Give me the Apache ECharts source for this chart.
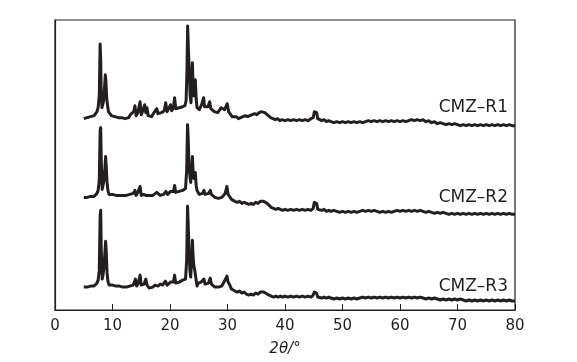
<!DOCTYPE html>
<html>
<head>
<meta charset="utf-8">
<script src="https://cdn.jsdelivr.net/npm/echarts@6/dist/echarts.min.js"></script>
<style>html,body{margin:0;padding:0;background:#fff}#c{width:577px;height:362px}</style>
</head>
<body>
<div id="c"></div>
<script>
const xTicks = [0, 10, 20, 30, 40, 50, 60, 70, 80];
const seriesNames = ['CMZ–R1', 'CMZ–R2', 'CMZ–R3'];
const labelLevels = [203, 113, 24];

const r1 = [[5.0,192],[5.3,194],[5.6,193],[5.9,195],[6.2,194],[6.5,196],[6.8,195],[7.1,197],[7.3,199],[7.5,203],[7.7,215],[7.85,267],[7.95,250],[8.05,215],[8.17,203],[8.3,206],[8.45,210],[8.6,222],[8.75,236],[8.85,230],[9.0,212],[9.15,205],[9.3,199],[9.5,197],[9.8,195],[10.1,196],[10.4,194],[10.7,195],[11.0,193],[11.3,195],[11.6,193],[11.9,194],[12.2,192],[12.5,194],[12.8,193],[13.1,196],[13.4,194],[13.7,199],[13.9,205],[14.1,195],[14.4,198],[14.6,200],[14.8,209],[15.0,196],[15.2,199],[15.4,197],[15.6,206],[15.8,198],[16.0,203],[16.2,195],[16.5,196],[16.8,194],[17.1,197],[17.4,196],[17.7,202],[17.9,197],[18.2,196],[18.5,198],[18.8,197],[19.0,200],[19.25,208],[19.5,199],[19.8,201],[20.1,206],[20.3,200],[20.6,203],[20.8,213],[21.0,202],[21.3,201],[21.6,203],[21.9,201],[22.2,204],[22.4,203],[22.6,205],[22.8,210],[22.95,240],[23.07,285],[23.2,262],[23.35,240],[23.5,215],[23.65,208],[23.8,230],[23.9,248],[24.0,228],[24.1,215],[24.25,220],[24.4,231],[24.55,212],[24.7,203],[24.9,205],[25.1,201],[25.3,203],[25.5,206],[25.7,208],[25.85,213],[26.0,204],[26.3,203],[26.6,204],[26.9,209],[27.1,202],[27.4,200],[27.7,199],[28.0,201],[28.3,198],[28.6,200],[28.9,203],[29.2,205],[29.5,201],[29.8,203],[29.95,207],[30.2,199],[30.5,197],[30.8,194],[31.1,193],[31.5,194],[31.9,192],[32.3,193],[32.7,194],[33.1,195],[33.5,194],[33.9,195],[34.3,196],[34.7,197],[35.1,196],[35.5,198],[35.9,199],[36.2,200],[36.5,198],[36.8,197],[37.1,195],[37.5,193],[37.9,192],[38.3,191],[38.7,192],[39.1,190],[39.5,191],[40.0,190],[40.5,191],[41.0,190],[41.5,191],[42.0,190],[42.5,191],[43.0,190],[43.5,191],[44.0,190],[44.5,192],[44.9,193],[45.1,199],[45.3,197],[45.5,198],[45.7,192],[46.0,193],[46.4,190],[46.8,191],[47.2,189],[47.6,190],[48.0,189],[48.5,188],[49.0,189],[49.5,188],[50.0,189],[50.5,188],[51.0,189],[51.5,188],[52.0,189],[52.5,188],[53.0,189],[53.5,188],[54.0,189],[54.5,190],[55.0,189],[55.5,190],[56.0,189],[56.5,190],[57.0,189],[57.5,190],[58.0,189],[58.5,190],[59.0,189],[59.5,190],[60.0,189],[60.5,190],[61.0,189],[61.5,190],[62.0,191],[62.5,190],[63.0,191],[63.5,190],[64.0,191],[64.5,189],[65.0,190],[65.5,188],[66.0,189],[66.5,187],[67.0,188],[67.5,187],[68.0,186],[68.5,187],[69.0,186],[69.5,187],[70.0,186],[70.5,185],[71.0,186],[71.5,185],[72.0,186],[72.5,185],[73.0,186],[73.5,185],[74.0,186],[74.5,185],[75.0,186],[75.5,185],[76.0,186],[76.5,185],[77.0,186],[77.5,185],[78.0,186],[78.5,185],[79.0,186],[79.5,185],[80.0,185]];

const r2 = [[5.0,113],[5.3,114],[5.6,113],[5.9,115],[6.2,114],[6.5,115],[6.8,114],[7.1,116],[7.3,117],[7.5,120],[7.7,130],[7.85,180],[7.95,183],[8.05,150],[8.2,121],[8.35,125],[8.5,130],[8.65,140],[8.8,154],[8.9,145],[9.05,128],[9.2,120],[9.4,116],[9.7,115],[10.0,116],[10.3,114],[10.6,115],[10.9,113],[11.2,115],[11.5,114],[11.8,115],[12.1,113],[12.4,115],[12.7,114],[13.0,116],[13.3,115],[13.6,117],[13.9,120],[14.1,115],[14.4,118],[14.6,116],[14.8,124],[15.0,115],[15.2,117],[15.4,116],[15.6,118],[15.8,115],[16.1,117],[16.4,115],[16.7,116],[17.0,115],[17.3,117],[17.7,118],[18.0,116],[18.3,115],[18.6,117],[18.9,116],[19.3,119],[19.6,116],[19.9,118],[20.1,119],[20.4,117],[20.6,119],[20.8,125],[21.0,118],[21.3,117],[21.6,119],[21.9,118],[22.2,120],[22.5,119],[22.7,122],[22.9,140],[23.05,186],[23.15,175],[23.3,146],[23.45,135],[23.6,128],[23.75,140],[23.9,154],[24.0,140],[24.15,132],[24.3,135],[24.4,138],[24.55,125],[24.7,120],[24.9,118],[25.1,116],[25.4,115],[25.7,117],[25.9,120],[26.1,116],[26.4,115],[26.7,117],[27.0,120],[27.2,116],[27.5,114],[27.8,113],[28.1,114],[28.4,112],[28.7,111],[29.0,113],[29.3,115],[29.6,117],[29.9,124],[30.1,116],[30.4,115],[30.7,111],[31.0,110],[31.3,109],[31.7,108],[32.1,109],[32.5,107],[32.9,108],[33.3,107],[33.7,106],[34.1,107],[34.5,106],[34.9,108],[35.3,107],[35.7,109],[36.0,110],[36.3,109],[36.6,108],[36.9,107],[37.2,105],[37.6,103],[38.0,102],[38.4,101],[38.8,102],[39.2,101],[39.6,100],[40.0,101],[40.5,100],[41.0,101],[41.5,100],[42.0,101],[42.5,100],[43.0,101],[43.5,100],[44.0,101],[44.5,100],[44.9,102],[45.1,108],[45.3,106],[45.5,107],[45.7,101],[46.0,102],[46.4,100],[46.8,101],[47.2,99],[47.6,100],[48.0,99],[48.5,100],[49.0,99],[49.5,98],[50.0,99],[50.5,98],[51.0,99],[51.5,98],[52.0,99],[52.5,98],[53.0,99],[53.5,100],[54.0,99],[54.5,100],[55.0,99],[55.5,100],[56.0,99],[56.5,98],[57.0,99],[57.5,98],[58.0,99],[58.5,98],[59.0,99],[59.5,100],[60.0,99],[60.5,100],[61.0,99],[61.5,100],[62.0,99],[62.5,100],[63.0,99],[63.5,100],[64.0,99],[64.5,98],[65.0,99],[65.5,98],[66.0,97],[66.5,98],[67.0,97],[67.5,98],[68.0,97],[68.5,96],[69.0,97],[69.5,96],[70.0,97],[70.5,96],[71.0,97],[71.5,96],[72.0,97],[72.5,96],[73.0,97],[73.5,96],[74.0,97],[74.5,96],[75.0,97],[75.5,96],[76.0,97],[76.5,96],[77.0,97],[77.5,96],[78.0,97],[78.5,96],[79.0,97],[79.5,96],[80.0,96]];

const r3 = [[5.0,23],[5.3,24],[5.6,23],[5.9,25],[6.2,24],[6.5,25],[6.8,24],[7.1,26],[7.3,27],[7.5,30],[7.7,40],[7.85,95],[7.95,100],[8.05,60],[8.2,31],[8.35,35],[8.5,42],[8.65,55],[8.8,69],[8.9,60],[9.05,38],[9.2,29],[9.4,25],[9.7,24],[10.0,25],[10.3,23],[10.6,24],[10.9,23],[11.2,24],[11.5,22],[11.8,23],[12.1,22],[12.4,23],[12.7,21],[13.0,24],[13.3,26],[13.6,25],[13.8,28],[14.0,31],[14.2,24],[14.5,27],[14.8,35],[15.0,25],[15.2,27],[15.5,26],[15.8,31],[16.0,25],[16.4,22],[16.7,24],[17.0,23],[17.4,25],[17.9,24],[18.3,26],[18.7,25],[19.0,27],[19.2,29],[19.5,25],[19.8,27],[20.1,28],[20.4,26],[20.6,28],[20.8,35],[21.0,27],[21.3,26],[21.6,28],[21.9,29],[22.2,30],[22.5,32],[22.7,31],[22.9,50],[23.05,104],[23.15,90],[23.3,61],[23.45,40],[23.6,33],[23.75,50],[23.9,70],[24.0,55],[24.15,44],[24.3,40],[24.4,39],[24.55,30],[24.7,24],[24.9,27],[25.1,26],[25.4,28],[25.7,27],[25.9,31],[26.1,26],[26.4,24],[26.7,27],[27.0,32],[27.2,26],[27.5,25],[27.8,23],[28.1,24],[28.4,23],[28.7,25],[29.0,24],[29.3,27],[29.6,28],[29.9,34],[30.1,28],[30.4,25],[30.7,21],[31.0,20],[31.3,19],[31.7,18],[32.1,19],[32.5,17],[32.9,18],[33.3,16],[33.7,15],[34.1,16],[34.5,15],[34.9,17],[35.3,16],[35.7,18],[36.0,19],[36.3,18],[36.6,17],[36.9,16],[37.2,15],[37.6,14],[38.0,13],[38.4,14],[38.8,13],[39.2,14],[39.6,13],[40.0,14],[40.5,13],[41.0,14],[41.5,13],[42.0,14],[42.5,13],[43.0,14],[43.5,13],[44.0,14],[44.5,13],[44.9,15],[45.1,18],[45.3,16],[45.5,17],[45.7,13],[46.0,14],[46.4,12],[46.8,13],[47.2,12],[47.6,13],[48.0,12],[48.5,11],[49.0,12],[49.5,11],[50.0,12],[50.5,11],[51.0,12],[51.5,11],[52.0,12],[52.5,11],[53.0,12],[53.5,13],[54.0,12],[54.5,13],[55.0,12],[55.5,13],[56.0,12],[56.5,13],[57.0,12],[57.5,13],[58.0,12],[58.5,13],[59.0,12],[59.5,13],[60.0,12],[60.5,13],[61.0,12],[61.5,13],[62.0,12],[62.5,13],[63.0,12],[63.5,13],[64.0,12],[64.5,11],[65.0,12],[65.5,11],[66.0,12],[66.5,11],[67.0,10],[67.5,11],[68.0,10],[68.5,11],[69.0,10],[69.5,11],[70.0,10],[70.5,11],[71.0,10],[71.5,9],[72.0,10],[72.5,9],[73.0,10],[73.5,9],[74.0,10],[74.5,9],[75.0,10],[75.5,9],[76.0,10],[76.5,9],[77.0,10],[77.5,9],[78.0,10],[78.5,9],[79.0,10],[79.5,9],[80.0,9]];

const seriesData = [r1, r2, r3];
const ink = '#231f20';
const font = 'DejaVu Sans';

const chart = echarts.init(document.getElementById('c'), null, {renderer: 'canvas'});
chart.setOption({
  animation: false,
  backgroundColor: '#fff',
  grid: {left: 55, right: 62, top: 20, bottom: 51, show: true, borderColor: ink, borderWidth: 1.2, backgroundColor: 'transparent'},
  xAxis: {
    type: 'value', min: xTicks[0], max: xTicks[xTicks.length - 1], interval: 10,
    name: '2θ/°', nameLocation: 'middle', nameGap: 32,
    nameTextStyle: {fontFamily: font, fontSize: 15, fontStyle: 'italic', color: ink},
    axisLine: {show: true, lineStyle: {color: ink, width: 1.2}},
    axisTick: {show: true, inside: true, length: 6, lineStyle: {color: ink, width: 1}},
    axisLabel: {fontFamily: font, fontSize: 15, color: ink, margin: 9},
    splitLine: {show: false}
  },
  yAxis: {
    type: 'value', min: 0, max: 291,
    axisLine: {show: true, lineStyle: {color: ink, width: 1.2}},
    axisTick: {show: false}, axisLabel: {show: false}, splitLine: {show: false}
  },
  series: seriesData.map((d, i) => ({
    type: 'line', name: seriesNames[i], data: d, showSymbol: false, symbol: 'none',
    lineStyle: {color: ink, width: 3, join: 'round'},
    markPoint: {
      symbol: 'circle', symbolSize: 0,
      data: [{coord: [80, labelLevels[i]], value: seriesNames[i]}],
      label: {show: true, position: 'left', distance: 7, formatter: seriesNames[i], fontFamily: font, fontSize: 17, color: ink}
    }
  }))
});
</script>
</body>
</html>
